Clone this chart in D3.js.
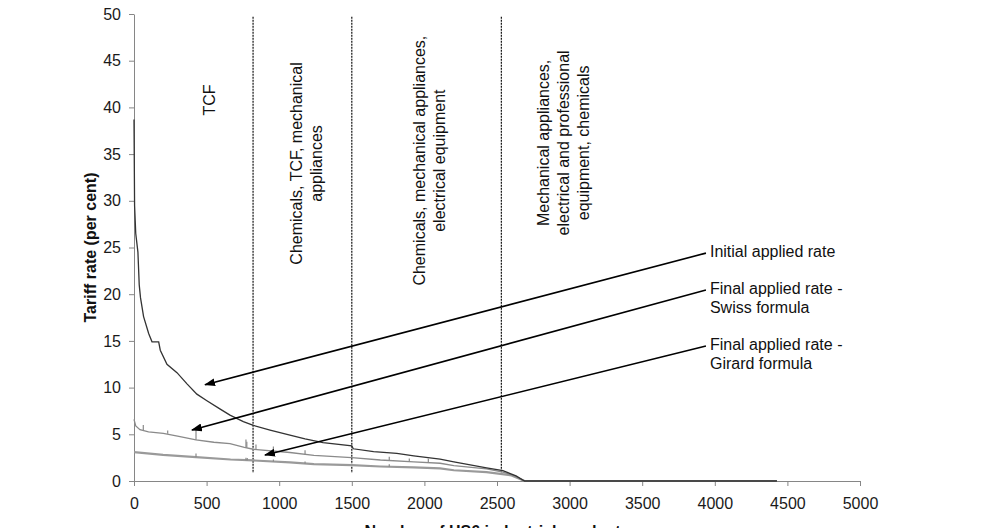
<!DOCTYPE html>
<html>
<head>
<meta charset="utf-8">
<script src="https://cdn.jsdelivr.net/npm/d3@7"></script>
<style>
  body { margin: 0; background: #fff; }
  svg { display: block; font-family: "Liberation Sans", Arial, sans-serif; }
</style>
</head>
<body>
<div id="chart"></div>
<script>
// data: [product rank, tariff rate]
const initialRate = [
  [0, 38.7], [4, 29.5], [12, 26.5], [27, 24.5], [36, 21], [45, 19.6], [66, 17.6],
  [101, 15.8], [124, 14.9], [170, 14.9], [181, 14.0], [227, 12.5], [296, 11.6],
  [365, 10.4], [433, 9.3], [502, 8.6], [594, 7.7], [661, 7.05], [753, 6.35],
  [822, 5.95], [937, 5.45], [1074, 4.9], [1178, 4.5], [1302, 4.1], [1500, 3.75],
  [1510, 3.45], [1650, 3.15], [1810, 2.95], [1927, 2.7], [2108, 2.35], [2203, 2.05],
  [2428, 1.4], [2541, 1.1], [2631, 0.55], [2690, 0], [4428, 0]
];
const swissRate = [
  [0, 6.6], [12, 5.9], [41, 5.5], [100, 5.25], [202, 5.1], [300, 4.8], [427, 4.4],
  [550, 4.15], [661, 4.0], [760, 3.6], [822, 3.4], [1074, 3.05], [1239, 2.75],
  [1500, 2.5], [1697, 2.25], [1927, 2.05], [2108, 1.9], [2203, 1.65], [2428, 1.3],
  [2541, 0.95], [2631, 0.5], [2685, 0], [4428, 0]
];
const girardRate = [
  [0, 3.1], [200, 2.8], [427, 2.55], [665, 2.3], [822, 2.2], [1074, 2.0], [1239, 1.8],
  [1500, 1.7], [1697, 1.55], [1927, 1.45], [2108, 1.35], [2203, 1.15], [2428, 0.95],
  [2600, 0.6], [2690, 0], [4428, 0]
];
// isolated spikes: [rank, base rate, peak rate]
const swissSpikes = [
  [64, 5.45, 6.0], [232, 5.05, 5.4], [427, 4.4, 5.5], [771, 3.55, 4.45], [777, 3.55, 4.2],
  [840, 3.4, 3.9], [960, 3.2, 3.7], [1178, 2.85, 3.3], [1758, 2.2, 2.6],
  [1896, 2.05, 2.4], [2027, 1.95, 2.4]
];
const girardSpikes = [
  [427, 2.55, 2.95], [771, 2.2, 2.5], [780, 2.2, 2.45], [960, 2.05, 2.3],
  [1178, 1.85, 2.1], [1758, 1.5, 1.8]
];

const xTickValues = [0, 500, 1000, 1500, 2000, 2500, 3000, 3500, 4000, 4500, 5000];
const yTickValues = [0, 5, 10, 15, 20, 25, 30, 35, 40, 45, 50];

// section boundaries and their product groups
const sectionBreaks = [820, 1500, 2530];
const sectionLabels = [
  ["TCF"],
  ["Chemicals, TCF, mechanical", "appliances"],
  ["Chemicals, mechanical appliances,", "electrical equipment"],
  ["Mechanical appliances,", "electrical and professional", "equipment, chemicals"]
];
const sectionLabelAt = [[523, 40.8], [1185, 34.0], [2032, 34.3], [2955, 36.2]];

const seriesNames = [
  ["Initial applied rate"],
  ["Final applied rate -", "Swiss formula"],
  ["Final applied rate -", "Girard formula"]
];
// arrow start / tip in data units
const arrowFrom = [[3939, 24.4], [3939, 20.45], [3939, 14.45]];
const arrowTo = [[489, 10.3], [399, 5.46], [902, 2.78]];

const FONT = "'Liberation Sans', Arial, sans-serif";
const AXIS_COLOR = "#868686";

const svg = d3.select("#chart").append("svg")
  .attr("width", 1004)
  .attr("height", 528);

const x = d3.scaleLinear().domain([0, 5000]).range([134, 860]);
const y = d3.scaleLinear().domain([0, 50]).range([481, 14]);

// axes
const styleAxis = (g) => {
  g.attr("font-family", FONT);
  g.select(".domain").attr("stroke", AXIS_COLOR);
  g.selectAll(".tick line").attr("stroke", AXIS_COLOR);
  g.selectAll(".tick text").attr("font-size", "16px").attr("fill", "#1a1a1a");
};

svg.append("g")
  .attr("transform", `translate(0,${y(0)})`)
  .call(
    d3.axisBottom(x).tickValues(xTickValues).tickFormat(d3.format("d"))
      .tickSize(5).tickPadding(12).tickSizeOuter(0)
  )
  .call(styleAxis);

svg.append("g")
  .attr("transform", `translate(${x(0)},0)`)
  .call(
    d3.axisLeft(y).tickValues(yTickValues).tickFormat(d3.format("d"))
      .tickSize(5).tickPadding(8).tickSizeOuter(0)
  )
  .call(styleAxis);

// axis titles
svg.append("text")
  .attr("transform", `translate(96,${(y(0) + y(50)) / 2}) rotate(-90)`)
  .attr("text-anchor", "middle")
  .attr("font-family", FONT)
  .attr("font-size", "16px")
  .attr("font-weight", "bold")
  .attr("fill", "#111")
  .text("Tariff rate (per cent)");

svg.append("text")
  .attr("x", (x(0) + x(5000)) / 2)
  .attr("y", 537)
  .attr("text-anchor", "middle")
  .attr("font-family", FONT)
  .attr("font-size", "16px")
  .attr("font-weight", "bold")
  .attr("fill", "#111")
  .text("Number of HS6 industrial products");

// dotted section lines
svg.append("g")
  .selectAll("line")
  .data(sectionBreaks)
  .join("line")
  .attr("x1", (d) => x(d))
  .attr("x2", (d) => x(d))
  .attr("y1", y(49.7))
  .attr("y2", y(0.85))
  .attr("stroke", "#111")
  .attr("stroke-width", 1.2)
  .attr("stroke-dasharray", "2,1");

// section labels, rotated
svg.append("g")
  .selectAll("text")
  .data(sectionLabels)
  .join("text")
  .attr("transform", (d, i) => {
    const [cx, cy] = sectionLabelAt[i];
    return `translate(${x(cx)},${y(cy)}) rotate(-90)`;
  })
  .attr("text-anchor", "middle")
  .attr("font-family", FONT)
  .attr("font-size", "16px")
  .attr("fill", "#111")
  .each(function (lines) {
    const lh = 20;
    const start = -((lines.length - 1) * lh) / 2 + 5.5;
    d3.select(this).selectAll("tspan")
      .data(lines)
      .join("tspan")
      .attr("x", 0)
      .attr("y", (_, j) => start + j * lh)
      .text((t) => t);
  });

// rate curves
const line = d3.line().x((d) => x(d[0])).y((d) => y(d[1]));

svg.append("path")
  .datum(girardRate)
  .attr("d", line)
  .attr("fill", "none")
  .attr("stroke", "#9a9a9a")
  .attr("stroke-width", 2.2);

svg.append("path")
  .datum(swissRate)
  .attr("d", line)
  .attr("fill", "none")
  .attr("stroke", "#8a8a8a")
  .attr("stroke-width", 1.3);

svg.append("path")
  .datum(initialRate)
  .attr("d", line)
  .attr("fill", "none")
  .attr("stroke", "#333")
  .attr("stroke-width", 1.3);

// spikes
svg.append("g")
  .selectAll("line")
  .data(swissSpikes.concat(girardSpikes))
  .join("line")
  .attr("x1", (d) => x(d[0]))
  .attr("x2", (d) => x(d[0]))
  .attr("y1", (d) => y(d[1]))
  .attr("y2", (d) => y(d[2]))
  .attr("stroke", "#8a8a8a")
  .attr("stroke-width", 1.2);

// arrows with labels
svg.append("defs")
  .append("marker")
  .attr("id", "arrowHead")
  .attr("markerUnits", "userSpaceOnUse")
  .attr("markerWidth", 11)
  .attr("markerHeight", 8)
  .attr("refX", 10)
  .attr("refY", 4)
  .attr("orient", "auto")
  .append("path")
  .attr("d", "M0,0 L11,4 L0,8 Z")
  .attr("fill", "#000");

svg.append("g")
  .selectAll("line")
  .data(arrowFrom)
  .join("line")
  .attr("x1", (d) => x(d[0]))
  .attr("y1", (d) => y(d[1]))
  .attr("x2", (_, i) => x(arrowTo[i][0]))
  .attr("y2", (_, i) => y(arrowTo[i][1]))
  .attr("stroke", "#000")
  .attr("stroke-width", 1.6)
  .attr("marker-end", "url(#arrowHead)");

svg.append("g")
  .selectAll("text")
  .data(seriesNames)
  .join("text")
  .attr("font-family", FONT)
  .attr("font-size", "16px")
  .attr("fill", "#111")
  .each(function (lines, i) {
    const [ax, ay] = arrowFrom[i];
    d3.select(this).selectAll("tspan")
      .data(lines)
      .join("tspan")
      .attr("x", x(ax) + 4)
      .attr("y", (_, j) => y(ay) + 4 + j * 19)
      .text((t) => t);
  });
</script>
</body>
</html>
